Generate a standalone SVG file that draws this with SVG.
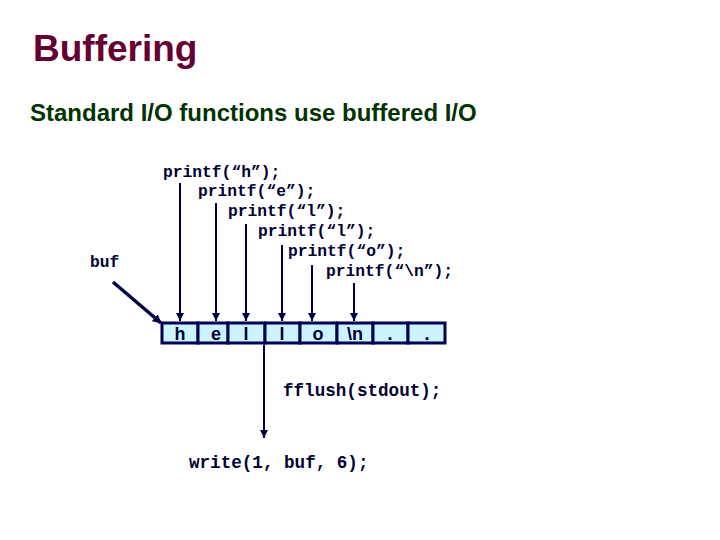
<svg xmlns="http://www.w3.org/2000/svg" width="720" height="540" viewBox="0 0 720 540">
<style>
.title{font-family:"Liberation Sans",Arial,sans-serif;font-weight:bold;font-size:37px;fill:#660033}
.sub{font-family:"Liberation Sans",Arial,sans-serif;font-weight:bold;font-size:24px;fill:#003300}
.code{font-family:"Liberation Mono","Courier New",monospace;font-weight:bold;font-size:16.3px;fill:#000033}
.code2{font-family:"Liberation Mono","Courier New",monospace;font-weight:bold;font-size:17.6px;fill:#000033}
.cell{fill:#ccf4ff;stroke:#000055;stroke-width:3}
.ctext{font-family:"Liberation Sans",Arial,sans-serif;font-weight:bold;font-size:18px;fill:#000033;text-anchor:middle}
.ln{stroke:#000044;stroke-width:2;fill:none}
</style>
<defs>
<marker id="ah" viewBox="0 0 8 10" refX="8" refY="5" markerWidth="8" markerHeight="10" markerUnits="userSpaceOnUse" orient="auto">
<path d="M0,1 L8,5 L0,9 Z" fill="#000044"/>
</marker>
<marker id="ah2" viewBox="0 0 10 10" refX="9" refY="5" markerWidth="9" markerHeight="9" markerUnits="userSpaceOnUse" orient="auto">
<path d="M0,0 L10,5 L0,10 Z" fill="#000044"/>
</marker>
</defs>
<text class="title" x="33" y="61">Buffering</text>
<text class="sub" x="30" y="121">Standard I/O functions use buffered I/O</text>
<g id="code">
<text class="code" x="163" y="177">printf(“h”);</text>
<text class="code" x="198" y="196">printf(“e”);</text>
<text class="code" x="228" y="216">printf(“l”);</text>
<text class="code" x="258" y="236">printf(“l”);</text>
<text class="code" x="288" y="256">printf(“o”);</text>
<text class="code" x="326" y="276">printf(“\n”);</text>
</g>
<g id="buf-label"><text class="code" x="90" y="267">buf</text></g>
<g id="buffer">
<rect class="cell" x="162" y="323" width="36" height="20"/>
<rect class="cell" x="198" y="323" width="30" height="20"/>
<rect class="cell" x="228" y="323" width="37" height="20"/>
<rect class="cell" x="265" y="323" width="35" height="20"/>
<rect class="cell" x="300" y="323" width="37" height="20"/>
<rect class="cell" x="337" y="323" width="36" height="20"/>
<rect class="cell" x="373" y="323" width="35" height="20"/>
<rect class="cell" x="408" y="323" width="37" height="20"/>
<text class="ctext" x="180" y="339.5">h</text>
<text class="ctext" x="216" y="339.5">e</text>
<text class="ctext" x="246" y="339.5">l</text>
<text class="ctext" x="282" y="339.5">l</text>
<text class="ctext" x="318" y="339.5">o</text>
<text class="ctext" x="355" y="339.5">\n</text>
<text class="ctext" x="390" y="339.5">.</text>
<text class="ctext" x="427" y="339.5">.</text>
</g>
<g id="connectors">
<line class="ln" x1="180" y1="183" x2="180" y2="321" marker-end="url(#ah)"/>
<line class="ln" x1="216" y1="203" x2="216" y2="321" marker-end="url(#ah)"/>
<line class="ln" x1="246" y1="224" x2="246" y2="321" marker-end="url(#ah)"/>
<line class="ln" x1="282" y1="245" x2="282" y2="321" marker-end="url(#ah)"/>
<line class="ln" x1="312" y1="265" x2="312" y2="321" marker-end="url(#ah)"/>
<line class="ln" x1="354" y1="283" x2="354" y2="321" marker-end="url(#ah)"/>
<line class="ln" style="stroke-width:3.5" x1="113" y1="282" x2="161" y2="323" marker-end="url(#ah2)"/>
<line class="ln" x1="264" y1="345" x2="264" y2="438" marker-end="url(#ah)"/>
</g>
<g id="labels">
<text class="code2" x="283" y="396">fflush(stdout);</text>
<text class="code2" x="189" y="468">write(1, buf, 6);</text>
</g>
</svg>
